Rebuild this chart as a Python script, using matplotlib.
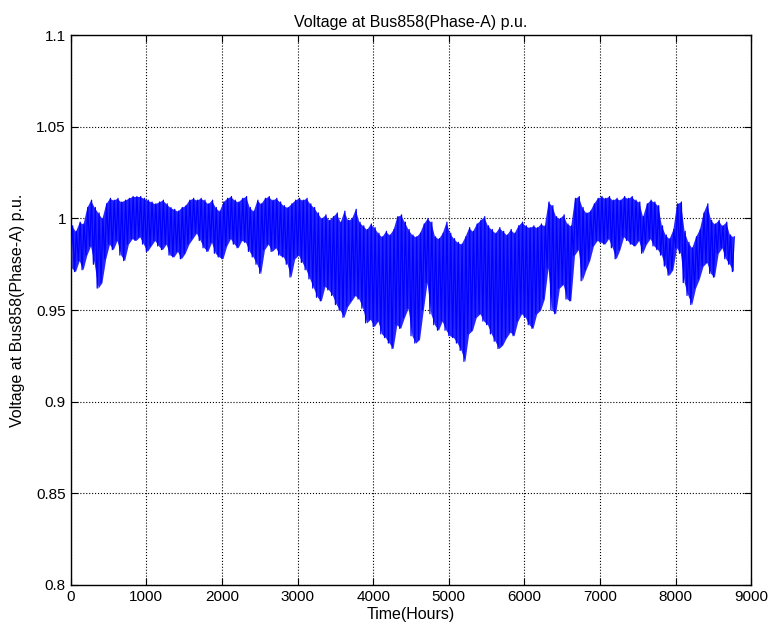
import matplotlib
matplotlib.use("Agg")
import matplotlib.pyplot as plt
import numpy as np

# hourly voltage: band top / bottom every 50 hours
hours = np.arange(0, 8800, 50)

v_high = [
    0.996, 0.993, 0.998, 0.997, 1.006, 1.010, 1.006, 1.003, 1.000, 1.008,
    1.011, 1.010, 1.011, 1.009, 1.010, 1.011, 1.012, 1.012, 1.012, 1.011,
    1.010, 1.009, 1.008, 1.009, 1.010, 1.008, 1.006, 1.005, 1.004, 1.006,
    1.007, 1.010, 1.011, 1.010, 1.011, 1.010, 1.008, 1.010, 1.006, 1.004,
    1.009, 1.011, 1.012, 1.010, 1.009, 1.011, 1.012, 1.006, 1.004, 1.010,
    1.008, 1.011, 1.012, 1.010, 1.011, 1.009, 1.007, 1.006, 1.008, 1.010,
    1.011, 1.010, 1.011, 1.008, 1.006, 1.003, 1.000, 1.002, 0.999, 1.001,
    1.003, 0.998, 1.004, 0.999, 1.000, 1.005, 0.998, 0.996, 0.994, 0.997,
    0.995, 0.992, 0.990, 0.993, 0.991, 0.994, 1.001, 1.002, 0.998, 0.994,
    0.991, 0.990, 0.992, 0.997, 1.000, 0.998, 0.990, 0.989, 0.992, 0.998,
    0.992, 0.989, 0.987, 0.986, 0.990, 0.995, 0.993, 0.997, 0.999, 1.001,
    0.996, 0.994, 0.992, 0.995, 0.993, 0.991, 0.994, 0.992, 0.996, 0.998,
    0.996, 0.995, 0.996, 0.995, 0.997, 0.996, 1.009, 1.007, 1.001, 1.000,
    1.002, 0.997, 0.996, 1.011, 1.012, 1.006, 1.003, 1.004, 1.008, 1.011,
    1.012, 1.011, 1.012, 1.010, 1.011, 1.010, 1.012, 1.011, 1.012, 1.010,
    1.009, 1.001, 1.008, 1.010, 1.009, 1.007, 0.996, 0.991, 0.989, 0.994,
    1.008, 1.009, 0.993, 0.987, 0.984, 0.990, 0.994, 1.003, 1.008, 0.999,
    0.997, 0.999, 0.996, 0.998, 0.991, 0.990,
]

v_low = [
    0.973, 0.971, 0.977, 0.972, 0.980, 0.985, 0.975, 0.962, 0.965, 0.978,
    0.986, 0.983, 0.988, 0.980, 0.977, 0.986, 0.989, 0.988, 0.990, 0.986,
    0.982, 0.985, 0.988, 0.985, 0.983, 0.986, 0.980, 0.979, 0.982, 0.978,
    0.981, 0.986, 0.989, 0.992, 0.988, 0.984, 0.982, 0.987, 0.981, 0.979,
    0.978, 0.985, 0.989, 0.986, 0.984, 0.988, 0.987, 0.982, 0.979, 0.975,
    0.970, 0.983, 0.986, 0.982, 0.984, 0.980, 0.979, 0.975, 0.968, 0.978,
    0.980, 0.976, 0.972, 0.967, 0.962, 0.957, 0.955, 0.963, 0.961, 0.958,
    0.953, 0.950, 0.946, 0.952, 0.955, 0.958, 0.956, 0.951, 0.943, 0.945,
    0.941, 0.944, 0.937, 0.935, 0.932, 0.929, 0.942, 0.940, 0.946, 0.951,
    0.936, 0.932, 0.934, 0.950, 0.965, 0.948, 0.942, 0.939, 0.944, 0.939,
    0.936, 0.935, 0.932, 0.928, 0.922, 0.937, 0.939, 0.946, 0.948, 0.944,
    0.942, 0.937, 0.933, 0.929, 0.931, 0.935, 0.938, 0.936, 0.944, 0.948,
    0.946, 0.942, 0.940, 0.948, 0.950, 0.956, 0.973, 0.950, 0.948, 0.962,
    0.964, 0.956, 0.955, 0.980, 0.983, 0.966, 0.972, 0.977, 0.985, 0.988,
    0.987, 0.986, 0.989, 0.984, 0.978, 0.983, 0.990, 0.988, 0.986, 0.985,
    0.988, 0.981, 0.986, 0.989, 0.985, 0.983, 0.980, 0.974, 0.969, 0.972,
    0.984, 0.981, 0.965, 0.958, 0.953, 0.962, 0.967, 0.974, 0.976, 0.970,
    0.968, 0.981, 0.984, 0.978, 0.975, 0.971,
]

title = "Voltage at Bus858(Phase-A) p.u."
xticks = np.arange(0, 9001, 1000)
yticks = [0.8, 0.85, 0.9, 0.95, 1.0, 1.05, 1.1]
ytick_labels = ["0.8", "0.85", "0.9", "0.95", "1", "1.05", "1.1"]


def main():
    plt.rcParams["font.family"] = ["Liberation Sans Narrow", "Liberation Sans", "DejaVu Sans"]

    fig = plt.figure(figsize=(7.69, 6.29), dpi=100)
    ax = fig.add_axes([0.092, 0.070, 0.885, 0.874])

    # dense daily swings look like a solid band; fill the envelope and
    # draw each 50 h block as a low -> high swing on top
    ax.fill_between(hours + 12, v_low, v_high, color=(0.15, 0.15, 1.0),
                    lw=0, zorder=2)
    t = np.column_stack([hours, hours + 25]).ravel()
    v = np.column_stack([v_low, v_high]).ravel()
    ax.plot(t, v, color=(0, 0, 1), lw=0.9, zorder=3)

    ax.set_xlim(0, 9000)
    ax.set_ylim(0.8, 1.1)
    ax.set_xticks(xticks)
    ax.set_yticks(yticks)
    ax.set_yticklabels(ytick_labels)
    ax.tick_params(direction="in", top=True, right=True, length=5,
                   labelsize=11, colors="black")
    ax.grid(True, linestyle=":", color="black", linewidth=0.8)
    ax.set_axisbelow(True)
    for s in ax.spines.values():
        s.set_linewidth(1.0)
        s.set_color("black")

    ax.set_title(title, fontsize=11.5, pad=6)
    ax.set_xlabel("Time(Hours)", fontsize=11.5, labelpad=2)
    ax.set_ylabel(title, fontsize=11.5, labelpad=8)

    fig.savefig("out.png", dpi=100, facecolor="white")


if __name__ == "__main__":
    main()
